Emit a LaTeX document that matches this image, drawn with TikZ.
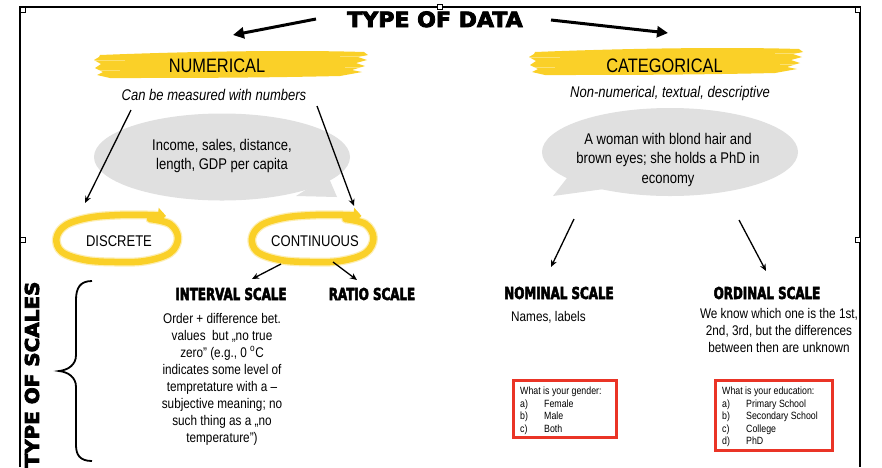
\documentclass[tikz,border=0pt]{standalone}
\usepackage{fontspec}
\setmainfont{Liberation Sans}[FakeStretch=0.84]
\newfontfamily\blk{DejaVu Sans}[FakeBold=4,FakeStretch=1.05]
\newfontfamily\hdr{DejaVu Sans}[FakeBold=3,FakeStretch=0.72]
\usetikzlibrary{arrows.meta,shapes.geometric}
\definecolor{yel}{RGB}{250,208,40}
\definecolor{bub}{RGB}{224,224,224}
\definecolor{rbox}{RGB}{234,52,38}
\tikzset{
  body/.style={font=\fontsize{15.5}{18.6}\selectfont, inner sep=0pt},
  bodyit/.style={font=\itshape\fontsize{15.5}{18.6}\selectfont, inner sep=0pt},
  smalltxt/.style={font=\fontsize{14}{17}\selectfont, inner sep=0pt, align=center},
  tinytxt/.style={font=\fontsize{10.5}{12.5}\selectfont, inner sep=0pt, align=left},
  headtxt/.style={font=\hdr\bfseries\fontsize{16.5}{18}\selectfont, inner sep=0pt},
  blktxt/.style={font=\blk\bfseries\fontsize{21}{24}\selectfont, inner sep=0pt},
  bigarrow/.style={line width=3pt, -{Triangle[length=11pt,width=11pt]}},
  thinarrow/.style={line width=1.3pt, -{Stealth[length=7pt,width=6pt]}},
  loopst/.style={draw=yel, line width=6.5pt, line cap=round, line join=round, -{Triangle[length=8pt,width=15pt]}},
  loopsoft/.style={draw=yel, opacity=0.35, line width=9pt, line cap=round, line join=round},
  redbox/.style={draw=rbox, line width=3pt, inner sep=0pt},
  handle/.style={draw=black, fill=white, line width=0.6pt},
  bubshape/.style={fill=bub, draw=none}
}
\begin{document}
\begin{tikzpicture}[x=1pt,y=-1pt]
\useasboundingbox (0,0) rectangle (882,467);
\fill[white] (0,0) rectangle (882,467);
% frame
\draw[line width=1.2pt] (20,467) -- (20,7) -- (860,7) -- (860,467);
\draw[handle] (20,7) rectangle (25,12);
\draw[handle] (437.5,4.5) rectangle (442.5,9.5);
\draw[handle] (855,7) rectangle (860,12);
\draw[handle] (20,237) rectangle (25,242);
\draw[handle] (855,237) rectangle (860,242);

% brush strokes
\fill[yel] (100,55) .. controls (200,51) and (300,50) .. (364,52) -- (368,55) -- (358,57) -- (367,60) -- (356,63) -- (365,66) -- (352,70) -- (362,72) -- (340,76) .. controls (250,78) and (180,78) .. (110,78) -- (97,75) -- (103,72) -- (95,68) -- (101,64) -- (94,60) -- (99,57) -- cycle;
\draw[white,opacity=0.35,line width=0.8pt] (95,60) -- (125,60) (97,70) -- (120,70) (340,56) -- (366,56) (345,67) -- (364,67);
\begin{scope}[shift={(435,-3)}]
\fill[yel] (100,55) .. controls (200,51) and (300,50) .. (364,52) -- (368,55) -- (358,57) -- (367,60) -- (356,63) -- (365,66) -- (352,70) -- (362,72) -- (340,76) .. controls (250,78) and (180,78) .. (110,78) -- (97,75) -- (103,72) -- (95,68) -- (101,64) -- (94,60) -- (99,57) -- cycle;
\draw[white,opacity=0.35,line width=0.8pt] (95,60) -- (125,60) (97,70) -- (120,70) (340,56) -- (366,56) (345,67) -- (364,67);
\end{scope}

% title
\node[blktxt, anchor=base] (title) at (435,27) {TYPE OF DATA};
\node[body, font=\fontsize{19.5}{22}\selectfont, anchor=base] (num) at (217,72) {NUMERICAL};
\node[body, font=\fontsize{19.5}{22}\selectfont, anchor=base] (cat) at (664.5,72) {CATEGORICAL};
\coordinate (tls) at (316,19);
\coordinate (tle) at (233,35);
\coordinate (trs) at (551,20);
\coordinate (tre) at (668,33);
\draw[bigarrow] (tls) -- (tle);
\draw[bigarrow] (trs) -- (tre);

\node[bodyit, anchor=base] (numdesc) at (214,100.5) {Can be measured with numbers};
\node[bodyit, anchor=base] (catdesc) at (670,97) {Non-numerical, textual, descriptive};

% bubbles
\node[bubshape, ellipse, minimum width=256pt, minimum height=87pt, inner sep=0pt] (bubL) at (222,157) {};
\fill[bub] (328,176) -- (337,197) -- (296,196) -- cycle;
\node[bubshape, ellipse, minimum width=256pt, minimum height=88pt, inner sep=0pt] (bubR) at (670,152) {};
\fill[bub] (567,178) -- (553,196) -- (604,189) -- cycle;
\node[body, align=center, anchor=north] (bubLtxt) at (222,139.3) {Income, sales, distance,\\length, GDP per capita};
\node[body, font=\fontsize{15.5}{19.5}\selectfont, align=center, anchor=north] (bubRtxt) at (668,132.7) {A woman with blond hair and\\brown eyes; she holds a PhD in\\economy};

% loops
\draw[loopsoft] plot[smooth, tension=0.6] coordinates {(150,219) (170,224) (178,238) (170,253) (145,261) (115,262) (85,260) (62,252) (56.5,238) (66,225) (90,217.5) (120,215) (148,215) (160,215.5)};
\draw[loopst] plot[smooth, tension=0.6] coordinates {(150,219) (170,224) (178,238) (170,253) (145,261) (115,262) (85,260) (62,252) (56.5,238) (66,225) (90,217.5) (120,215) (148,215) (166,216)};
\begin{scope}[shift={(195.5,0)}]
\draw[loopsoft] plot[smooth, tension=0.6] coordinates {(150,219) (170,224) (178,238) (170,253) (145,261) (115,262) (85,260) (62,252) (56.5,238) (66,225) (90,217.5) (120,215) (148,215) (160,215.5)};
\draw[loopst] plot[smooth, tension=0.6] coordinates {(150,219) (170,224) (178,238) (170,253) (145,261) (115,262) (85,260) (62,252) (56.5,238) (66,225) (90,217.5) (120,215) (148,215) (166,216)};
\end{scope}
\node[body, anchor=base] (disc) at (119,246) {DISCRETE};
\node[body, anchor=base] (cont) at (315,246) {CONTINUOUS};

% arrows numerical / categorical
\coordinate (n1s) at (131,110);
\coordinate (n1e) at (85,203);
\coordinate (n2s) at (317,106);
\coordinate (n2e) at (354,206);
\draw[thinarrow] (n1s) -- (n1e);
\draw[thinarrow] (n2s) -- (n2e);
\coordinate (c1s) at (574,219);
\coordinate (c1e) at (551,267);
\coordinate (c2s) at (739,220);
\coordinate (c2e) at (766,271);
\draw[thinarrow] (c1s) -- (c1e);
\draw[thinarrow] (c2s) -- (c2e);
\coordinate (k1s) at (281,264);
\coordinate (k1e) at (252,279);
\coordinate (k2s) at (333,262);
\coordinate (k2e) at (357,280);
\draw[thinarrow] (k1s) -- (k1e);
\draw[thinarrow] (k2s) -- (k2e);

% type of scales
\node[blktxt, font=\blk\bfseries\fontsize{19}{22}\selectfont, rotate=90] (tos) at (32,374.5) {TYPE OF SCALES};
\draw[line width=1.8pt] (92,281) .. controls (80,281) and (76,288) .. (76,300) -- (76,355) .. controls (76,365) and (68,370) .. (59,371) .. controls (68,372) and (76,377) .. (76,387) -- (76,445) .. controls (76,455) and (80,461) .. (92,461);

% scale headings
\node[headtxt, anchor=base] (interval) at (231,300) {INTERVAL SCALE};
\node[headtxt, anchor=base] (ratio) at (372,300) {RATIO SCALE};
\node[headtxt, anchor=base] (nominal) at (559,299) {NOMINAL SCALE};
\node[headtxt, anchor=base] (ordinal) at (767,299) {ORDINAL SCALE};

\node[smalltxt, anchor=north] (inttxt) at (222,312.7) {Order + difference bet.\\values\ \ but „no true\\zero” (e.g., 0 \textsuperscript{o}C\\indicates some level of\\tempretature with a –\\subjective meaning; no\\such thing as a „no\\temperature”)};
\node[smalltxt, anchor=base west] (nomtxt) at (511,321.7) {Names, labels};
\node[smalltxt, anchor=north] (ordtxt) at (779,308.3) {We know which one is the 1st,\\2nd, 3rd, but the differences\\between then are unknown};

% red boxes
\node[redbox, minimum width=103pt, minimum height=57pt] (boxL) at (565,409) {};
\node[redbox, minimum width=117pt, minimum height=70pt] (boxR) at (774,415.5) {};
\node[tinytxt, anchor=north west] (boxLtxt) at (520,386.7) {What is your gender:\\\makebox[24pt][l]{a)}Female\\\makebox[24pt][l]{b)}Male\\\makebox[24pt][l]{c)}Both};
\node[tinytxt, anchor=north west] (boxRtxt) at (722,386.7) {What is your education:\\\makebox[24pt][l]{a)}Primary School\\\makebox[24pt][l]{b)}Secondary School\\\makebox[24pt][l]{c)}College\\\makebox[24pt][l]{d)}PhD};
\end{tikzpicture}
\end{document}
